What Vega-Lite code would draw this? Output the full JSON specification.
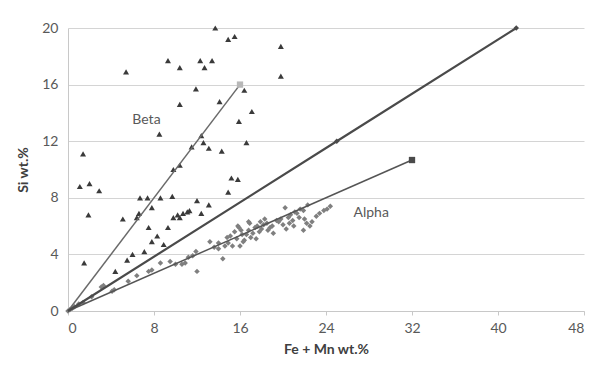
{
  "$schema": "https://vega.github.io/schema/vega-lite/v6.json",
  "autosize": {"type": "none"},
  "width": 516,
  "height": 283,
  "padding": {"left": 68, "top": 28, "right": 9, "bottom": 57},
  "background": "white",
  "config": {
    "font": "Lato",
    "view": {"stroke": null},
    "axis": {"labelFont": "Lato", "titleFont": "Lato", "labelColor": "#595959", "titleColor": "#404040", "labelFontSize": 14, "titleFontSize": 14, "titleFontWeight": "bold"}
  },
  "datasets": {
    "pts": [
      {"s": "Beta", "x": 13.7, "y": 20.0}, {"s": "Beta", "x": 14.9, "y": 19.2}, {"s": "Beta", "x": 15.5, "y": 19.4},
      {"s": "Beta", "x": 5.4, "y": 16.9}, {"s": "Beta", "x": 9.3, "y": 17.7}, {"s": "Beta", "x": 10.4, "y": 17.2},
      {"s": "Beta", "x": 12.3, "y": 17.7}, {"s": "Beta", "x": 12.7, "y": 17.2}, {"s": "Beta", "x": 13.4, "y": 17.7},
      {"s": "Beta", "x": 11.9, "y": 15.7}, {"s": "Beta", "x": 14.1, "y": 14.8}, {"s": "Beta", "x": 10.4, "y": 14.6},
      {"s": "Beta", "x": 16.4, "y": 15.6}, {"s": "Beta", "x": 17.1, "y": 14.1}, {"s": "Beta", "x": 15.9, "y": 13.4},
      {"s": "Beta", "x": 8.5, "y": 12.5}, {"s": "Beta", "x": 12.4, "y": 12.4}, {"s": "Beta", "x": 12.6, "y": 11.9},
      {"s": "Beta", "x": 13.1, "y": 11.5}, {"s": "Beta", "x": 11.5, "y": 11.6}, {"s": "Beta", "x": 14.3, "y": 11.3},
      {"s": "Beta", "x": 16.6, "y": 11.9}, {"s": "Beta", "x": 19.8, "y": 18.7}, {"s": "Beta", "x": 19.8, "y": 16.6},
      {"s": "Beta", "x": 1.4, "y": 11.1}, {"s": "Beta", "x": 10.4, "y": 10.3}, {"s": "Beta", "x": 9.8, "y": 10.0},
      {"s": "Beta", "x": 15.2, "y": 9.4}, {"s": "Beta", "x": 15.8, "y": 9.3}, {"s": "Beta", "x": 1.1, "y": 8.8},
      {"s": "Beta", "x": 2.0, "y": 9.0}, {"s": "Beta", "x": 2.9, "y": 8.5}, {"s": "Beta", "x": 1.9, "y": 6.8},
      {"s": "Beta", "x": 1.5, "y": 3.4}, {"s": "Beta", "x": 5.1, "y": 6.5}, {"s": "Beta", "x": 6.4, "y": 6.6},
      {"s": "Beta", "x": 6.7, "y": 8.0}, {"s": "Beta", "x": 7.4, "y": 8.0}, {"s": "Beta", "x": 8.6, "y": 8.0},
      {"s": "Beta", "x": 9.7, "y": 8.1}, {"s": "Beta", "x": 12.0, "y": 7.8}, {"s": "Beta", "x": 13.1, "y": 7.5},
      {"s": "Beta", "x": 14.9, "y": 8.4}, {"s": "Beta", "x": 7.8, "y": 7.3}, {"s": "Beta", "x": 6.6, "y": 6.9},
      {"s": "Beta", "x": 12.4, "y": 6.9}, {"s": "Beta", "x": 9.8, "y": 6.6}, {"s": "Beta", "x": 10.4, "y": 6.6},
      {"s": "Beta", "x": 10.7, "y": 6.9}, {"s": "Beta", "x": 11.1, "y": 7.0}, {"s": "Beta", "x": 10.2, "y": 6.8},
      {"s": "Beta", "x": 11.3, "y": 7.1}, {"s": "Beta", "x": 7.5, "y": 5.9}, {"s": "Beta", "x": 9.3, "y": 5.9},
      {"s": "Beta", "x": 8.3, "y": 5.3}, {"s": "Beta", "x": 7.8, "y": 4.9}, {"s": "Beta", "x": 8.9, "y": 4.7},
      {"s": "Beta", "x": 6.0, "y": 4.0}, {"s": "Beta", "x": 5.5, "y": 3.6}, {"s": "Beta", "x": 7.1, "y": 4.2},
      {"s": "Beta", "x": 4.4, "y": 2.8},
      {"s": "Alpha", "x": 0.0, "y": 0.0}, {"s": "Alpha", "x": 0.2, "y": 0.1}, {"s": "Alpha", "x": 0.4, "y": 0.2},
      {"s": "Alpha", "x": 0.6, "y": 0.3}, {"s": "Alpha", "x": 1.0, "y": 0.5}, {"s": "Alpha", "x": 1.4, "y": 0.6},
      {"s": "Alpha", "x": 2.2, "y": 1.0}, {"s": "Alpha", "x": 3.3, "y": 1.8}, {"s": "Alpha", "x": 3.1, "y": 1.7},
      {"s": "Alpha", "x": 4.1, "y": 1.4}, {"s": "Alpha", "x": 4.3, "y": 1.5}, {"s": "Alpha", "x": 5.6, "y": 2.1},
      {"s": "Alpha", "x": 6.4, "y": 2.5}, {"s": "Alpha", "x": 7.5, "y": 2.8}, {"s": "Alpha", "x": 7.8, "y": 2.9},
      {"s": "Alpha", "x": 8.6, "y": 3.4}, {"s": "Alpha", "x": 9.5, "y": 3.5}, {"s": "Alpha", "x": 10.0, "y": 3.3},
      {"s": "Alpha", "x": 10.6, "y": 3.3}, {"s": "Alpha", "x": 10.9, "y": 3.4}, {"s": "Alpha", "x": 11.2, "y": 3.8},
      {"s": "Alpha", "x": 11.6, "y": 3.9}, {"s": "Alpha", "x": 11.9, "y": 4.2}, {"s": "Alpha", "x": 12.0, "y": 2.8},
      {"s": "Alpha", "x": 13.2, "y": 4.9}, {"s": "Alpha", "x": 14.0, "y": 4.4}, {"s": "Alpha", "x": 14.0, "y": 4.8},
      {"s": "Alpha", "x": 14.4, "y": 3.7}, {"s": "Alpha", "x": 14.8, "y": 5.2}, {"s": "Alpha", "x": 14.9, "y": 4.8},
      {"s": "Alpha", "x": 15.1, "y": 5.3}, {"s": "Alpha", "x": 15.3, "y": 4.6}, {"s": "Alpha", "x": 15.7, "y": 5.1},
      {"s": "Alpha", "x": 15.8, "y": 6.0}, {"s": "Alpha", "x": 15.9, "y": 5.9}, {"s": "Alpha", "x": 16.0, "y": 4.6},
      {"s": "Alpha", "x": 16.2, "y": 5.4}, {"s": "Alpha", "x": 16.4, "y": 5.0}, {"s": "Alpha", "x": 16.6, "y": 5.4},
      {"s": "Alpha", "x": 16.8, "y": 5.7}, {"s": "Alpha", "x": 16.8, "y": 6.3}, {"s": "Alpha", "x": 16.9, "y": 6.2},
      {"s": "Alpha", "x": 17.0, "y": 5.2}, {"s": "Alpha", "x": 17.2, "y": 5.5}, {"s": "Alpha", "x": 17.4, "y": 5.9},
      {"s": "Alpha", "x": 17.6, "y": 6.0}, {"s": "Alpha", "x": 17.8, "y": 5.6}, {"s": "Alpha", "x": 18.0, "y": 5.8},
      {"s": "Alpha", "x": 18.2, "y": 6.1}, {"s": "Alpha", "x": 18.5, "y": 6.2}, {"s": "Alpha", "x": 18.6, "y": 5.7},
      {"s": "Alpha", "x": 18.8, "y": 5.9}, {"s": "Alpha", "x": 19.1, "y": 5.5}, {"s": "Alpha", "x": 19.4, "y": 6.4},
      {"s": "Alpha", "x": 19.6, "y": 6.3}, {"s": "Alpha", "x": 19.8, "y": 6.5}, {"s": "Alpha", "x": 20.0, "y": 6.1},
      {"s": "Alpha", "x": 20.2, "y": 7.3}, {"s": "Alpha", "x": 20.3, "y": 5.8}, {"s": "Alpha", "x": 20.5, "y": 6.6},
      {"s": "Alpha", "x": 20.7, "y": 6.8}, {"s": "Alpha", "x": 20.9, "y": 6.4}, {"s": "Alpha", "x": 21.1, "y": 7.0},
      {"s": "Alpha", "x": 21.3, "y": 6.9}, {"s": "Alpha", "x": 21.5, "y": 6.6}, {"s": "Alpha", "x": 21.6, "y": 7.2},
      {"s": "Alpha", "x": 21.9, "y": 7.1}, {"s": "Alpha", "x": 21.9, "y": 5.7}, {"s": "Alpha", "x": 22.0, "y": 6.5},
      {"s": "Alpha", "x": 22.2, "y": 6.2}, {"s": "Alpha", "x": 22.3, "y": 7.5}, {"s": "Alpha", "x": 22.5, "y": 6.0},
      {"s": "Alpha", "x": 23.1, "y": 6.7}, {"s": "Alpha", "x": 23.4, "y": 6.9}, {"s": "Alpha", "x": 23.8, "y": 7.1},
      {"s": "Alpha", "x": 24.1, "y": 7.2}, {"s": "Alpha", "x": 24.4, "y": 7.4}, {"s": "Alpha", "x": 16.3, "y": 4.9},
      {"s": "Alpha", "x": 15.5, "y": 5.6}, {"s": "Alpha", "x": 17.5, "y": 5.1}, {"s": "Alpha", "x": 18.3, "y": 6.5},
      {"s": "Alpha", "x": 19.0, "y": 6.0}, {"s": "Alpha", "x": 20.6, "y": 6.2}, {"s": "Alpha", "x": 21.0, "y": 6.0},
      {"s": "Alpha", "x": 22.7, "y": 6.3}, {"s": "Alpha", "x": 14.6, "y": 4.6}, {"s": "Alpha", "x": 13.6, "y": 4.5},
      {"s": "Alpha", "x": 16.1, "y": 5.7}, {"s": "Alpha", "x": 17.9, "y": 6.3}
    ],
    "lines": [
      {"l": "beta", "x": 0, "y": 0}, {"l": "beta", "x": 16, "y": 16},
      {"l": "mid", "x": 0, "y": 0}, {"l": "mid", "x": 25, "y": 12}, {"l": "mid", "x": 41.7, "y": 20},
      {"l": "alpha", "x": 0, "y": 0}, {"l": "alpha", "x": 32, "y": 10.67}
    ],
    "labels": [
      {"t": "Beta", "x": 7.3, "y": 13.5},
      {"t": "Alpha", "x": 28.2, "y": 6.9}
    ]
  },
  "layer": [
    {
      "data": {"name": "pts"},
      "transform": [{"filter": "datum.s === 'Beta'"}],
      "mark": {"type": "point", "shape": "triangle-up", "filled": true, "color": "#3a3a3a", "size": 36, "opacity": 1},
      "encoding": {
        "x": {"field": "x", "type": "quantitative", "scale": {"domain": [0, 48], "nice": false}, "title": "Fe + Mn wt.%",
          "axis": {"values": [0, 8, 16, 24, 32, 40, 48], "grid": false, "domain": true, "domainColor": "#c8c8c8", "ticks": true, "tickColor": "#c8c8c8", "tickSize": 4, "labelPadding": 6, "titlePadding": 7}},
        "y": {"field": "y", "type": "quantitative", "scale": {"domain": [0, 20], "nice": false}, "title": "Si wt.%",
          "axis": {"values": [0, 4, 8, 12, 16, 20], "grid": true, "gridColor": "#d4d4d4", "domain": true, "domainColor": "#c8c8c8", "ticks": false, "labelPadding": 10, "titlePadding": 11}}
      }
    },
    {
      "data": {"name": "pts"},
      "transform": [{"filter": "datum.s === 'Alpha'"}],
      "mark": {"type": "point", "shape": "diamond", "filled": true, "color": "#7f7f7f", "size": 30, "opacity": 1},
      "encoding": {"x": {"field": "x", "type": "quantitative"}, "y": {"field": "y", "type": "quantitative"}}
    },
    {
      "data": {"name": "lines"},
      "transform": [{"filter": "datum.l === 'beta'"}],
      "mark": {"type": "line", "color": "#6a6a6a", "strokeWidth": 1.5},
      "encoding": {"x": {"field": "x", "type": "quantitative"}, "y": {"field": "y", "type": "quantitative"}}
    },
    {
      "data": {"name": "lines"},
      "transform": [{"filter": "datum.l === 'alpha'"}],
      "mark": {"type": "line", "color": "#555555", "strokeWidth": 1.5},
      "encoding": {"x": {"field": "x", "type": "quantitative"}, "y": {"field": "y", "type": "quantitative"}}
    },
    {
      "data": {"name": "lines"},
      "transform": [{"filter": "datum.l === 'mid'"}],
      "mark": {"type": "line", "color": "#4a4a4a", "strokeWidth": 2.2},
      "encoding": {"x": {"field": "x", "type": "quantitative"}, "y": {"field": "y", "type": "quantitative"}}
    },
    {
      "data": {"name": "lines"},
      "transform": [{"filter": "datum.l === 'beta' && datum.x > 0"}],
      "mark": {"type": "point", "shape": "square", "filled": true, "color": "#b8b8b8", "size": 40, "opacity": 1},
      "encoding": {"x": {"field": "x", "type": "quantitative"}, "y": {"field": "y", "type": "quantitative"}}
    },
    {
      "data": {"name": "lines"},
      "transform": [{"filter": "datum.l === 'alpha' && datum.x > 0"}],
      "mark": {"type": "point", "shape": "square", "filled": true, "color": "#4a4a4a", "size": 40, "opacity": 1},
      "encoding": {"x": {"field": "x", "type": "quantitative"}, "y": {"field": "y", "type": "quantitative"}}
    },
    {
      "data": {"name": "lines"},
      "transform": [{"filter": "datum.l === 'mid' && datum.x > 0"}],
      "mark": {"type": "point", "shape": "diamond", "filled": true, "color": "#4a4a4a", "size": 30, "opacity": 1},
      "encoding": {"x": {"field": "x", "type": "quantitative"}, "y": {"field": "y", "type": "quantitative"}}
    },
    {
      "data": {"name": "labels"},
      "mark": {"type": "text", "font": "Lato", "fontSize": 14, "color": "#595959", "align": "center", "baseline": "middle"},
      "encoding": {"x": {"field": "x", "type": "quantitative"}, "y": {"field": "y", "type": "quantitative"}, "text": {"field": "t"}}
    }
  ]
}
